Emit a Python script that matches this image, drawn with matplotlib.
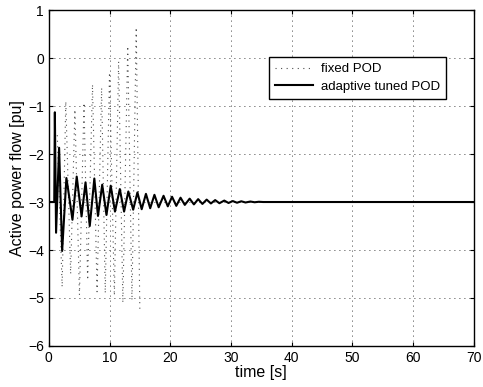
import numpy as np
import matplotlib
matplotlib.use("Agg")
import matplotlib.pyplot as plt

plt.rcParams['font.family'] = ['Liberation Sans', 'DejaVu Sans']

# fixed POD: extrema (simulation stops near 15 s)
t_fixed = [0, 0.95, 1.05, 1.4, 2.2, 2.8, 3.6, 4.3, 5.05, 5.8, 6.4, 7.2,
           7.95, 8.7, 9.3, 10.0, 10.8, 11.5, 12.2, 13.0, 13.7, 14.4, 15.0]
p_fixed = [-3.0, -3.0, -1.5, -1.6, -4.77, -0.9, -4.5, -1.07, -4.94, -0.93,
           -4.63, -0.55, -4.87, -0.62, -4.9, -0.3, -4.95, -0.07, -5.1, 0.25,
           -5.05, 0.64, -5.29]

# adaptive tuned POD: extrema
t_adapt = [0, 0.9, 1.0, 1.2, 1.7, 2.2, 2.9, 3.2, 3.9, 4.6, 5.4, 6.05, 6.75,
           7.5, 8.1, 8.8, 9.5, 10.2, 10.9, 11.7, 12.4, 13.1, 13.9, 14.6, 15.3,
           16.0, 16.7, 17.4, 18.1, 18.9, 19.6, 20.3, 21.0, 21.7, 22.4, 23.2,
           23.9, 24.6, 25.3, 26.0, 26.7, 27.4, 28.1, 28.9, 29.6, 30.3, 31.0,
           31.7, 32.4, 33.2, 33.9, 34.6, 35.3, 36.0, 70]
p_adapt = [-3.0, -3.0, -1.13, -3.64, -1.87, -4.02, -2.5, -2.75, -3.37, -2.47,
           -3.30, -2.59, -3.50, -2.51, -3.29, -2.64, -3.27, -2.66, -3.2, -2.73,
           -3.2, -2.78, -3.16, -2.80, -3.15, -2.83, -3.13, -2.85, -3.11, -2.87,
           -3.09, -2.89, -3.08, -2.91, -3.06, -2.93, -3.05, -2.94, -3.04, -2.95,
           -3.03, -2.96, -3.025, -2.97, -3.02, -2.98, -3.015, -2.985, -3.01,
           -2.99, -3.005, -2.995, -3.0, -3.0, -3.0]

xticks = [0, 10, 20, 30, 40, 50, 60, 70]
yticks = [-6, -5, -4, -3, -2, -1, 0, 1]

fig = plt.figure(figsize=(4.83, 3.87), dpi=100)
ax = fig.add_axes([0.101, 0.106, 0.880, 0.868])

ax.plot(t_fixed, p_fixed, color='0.3', lw=0.8, linestyle=(0, (1, 4)),
        label='fixed POD')
ax.plot(t_adapt, p_adapt, color='black', lw=1.5, label='adaptive tuned POD')

ax.set_xlim(0, 70)
ax.set_ylim(-6, 1)
ax.set_xticks(xticks)
ax.set_yticks(yticks)
ax.tick_params(direction='in', top=True, right=True, length=3, labelsize=10)
ax.grid(True, color='black', lw=0.6, linestyle=(0, (1, 5)))
for s in ax.spines.values():
    s.set_linewidth(1.0)

ax.set_xlabel('time [s]', fontsize=11.5, labelpad=0)
ax.set_ylabel('Active power flow [pu]', fontsize=11.5, labelpad=2)

leg = ax.legend(loc='upper left', bbox_to_anchor=(0.518, 0.860), fontsize=9.5,
                fancybox=False, framealpha=1, edgecolor='black',
                handlelength=2.9, handletextpad=0.6, borderpad=0.45,
                labelspacing=0.4, borderaxespad=0)
leg.get_frame().set_linewidth(1.0)

fig.savefig('out.png', dpi=100)
